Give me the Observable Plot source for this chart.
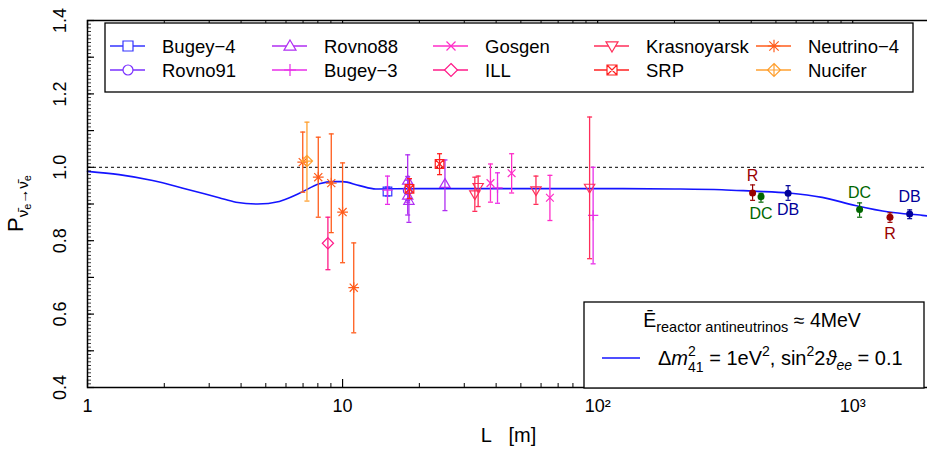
<!DOCTYPE html>
<html><head><meta charset="utf-8">
<script src="https://cdn.jsdelivr.net/npm/d3@7"></script>
<script src="https://cdn.jsdelivr.net/npm/@observablehq/plot@0.6"></script>
<style>body{margin:0;background:#fff;} svg{display:block}</style>
</head><body><div id="chart"></div>
<script>
// ---------- DATA ----------
// Model curve: L [m] and survival probability
const curveL = [1, 1.33, 1.8, 2.43, 3.28, 3.82, 4.64, 5.65, 6.77, 8.11, 9.15, 10.0, 11.65, 13.5, 20, 50, 100, 200, 307, 405, 561, 759, 1023, 1387, 1875, 2000];
const curveP = [0.989, 0.980, 0.964, 0.941, 0.917, 0.905, 0.900, 0.907, 0.929, 0.955, 0.961, 0.961, 0.950, 0.941, 0.942, 0.942, 0.942, 0.941, 0.939, 0.935, 0.930, 0.918, 0.896, 0.878, 0.869, 0.867];

// Experiments: rows of [L, P, low, high]
const bugey4      = [[15.0, 0.934, 0.922, 0.946]];
const rovno91     = [[18.0, 0.937, 0.910, 0.965]];
const rovno88     = [[18.0, 0.964, 0.905, 1.034], [18.0, 0.923, 0.870, 0.975], [18.2, 0.909, 0.850, 0.968], [25.2, 0.955, 0.882, 1.020]];
const bugey3      = [[15.0, 0.938, 0.899, 0.976], [40.5, 0.944, 0.902, 0.985], [96.0, 0.869, 0.737, 1.000]];
const gosgen      = [[38.0, 0.957, 0.905, 1.009], [46.0, 0.984, 0.930, 1.037], [65.0, 0.917, 0.855, 0.978]];
const ill         = [[8.76, 0.793, 0.721, 0.864]];
const krasnoyarsk = [[33.0, 0.926, 0.880, 0.973], [34.0, 0.946, 0.893, 0.976], [57.3, 0.937, 0.899, 0.976], [93.0, 0.944, 0.751, 1.137]];
const srp         = [[18.3, 0.941, 0.915, 0.969], [24.0, 1.009, 0.980, 1.037]];
const neutrino4   = [[6.98, 1.014, 0.932, 1.096], [8.03, 0.973, 0.864, 1.082], [9.03, 0.957, 0.822, 1.091], [10.0, 0.878, 0.740, 1.012], [11.06, 0.672, 0.549, 0.794]];
const nucifer     = [[7.25, 1.017, 0.908, 1.123]];

// Far detectors: name, L, P, low, high
const farNames = ["R", "DC", "DB", "DC", "R", "DB"];
const farL     = [405, 437, 558, 1064, 1400, 1672];
const farP     = [0.930, 0.920, 0.929, 0.885, 0.864, 0.873];
const farLo    = [0.910, 0.905, 0.910, 0.864, 0.850, 0.860];
const farHi    = [0.952, 0.929, 0.950, 0.903, 0.876, 0.884];

const seriesNames = ["Bugey\u22124", "Rovno91", "Rovno88", "Bugey\u22123", "Gosgen", "ILL", "Krasnoyarsk", "SRP", "Neutrino\u22124", "Nucifer"];

// Axis ticks
const yTickLabels = [0.4, 0.6, 0.8, 1.0, 1.2, 1.4];
const xTickValues = [1, 10, 100, 1000];
const xTickLabels = ["1", "10", "10\u00B2", "10\u00B3"];
const xMinor = [2,3,4,5,6,7,8,9,20,30,40,50,60,70,80,90,200,300,400,500,600,700,800,900,2000];
const yMajor = d3.range(4, 15).map(v => v / 10);
const yMinor = d3.range(40, 141).map(v => v / 100);

// ---------- STYLE / SYMBOLS ----------
const rad = s => Math.sqrt(s / Math.PI);
const sym = {
  cap:    {draw(c, s){const k = rad(s); c.moveTo(-k, 0); c.lineTo(k, 0);}},
  square: {draw(c, s){const k = rad(s); c.moveTo(-k, -k); c.lineTo(k, -k); c.lineTo(k, k); c.lineTo(-k, k); c.closePath();}},
  circle: {draw(c, s){const k = rad(s); c.moveTo(k, 0); c.arc(0, 0, k, 0, 2 * Math.PI);}},
  triUp:  {draw(c, s){const k = rad(s) * 1.2; c.moveTo(0, -k); c.lineTo(k, k * 0.7); c.lineTo(-k, k * 0.7); c.closePath();}},
  triDown:{draw(c, s){const k = rad(s) * 1.2; c.moveTo(0, k); c.lineTo(k, -k * 0.7); c.lineTo(-k, -k * 0.7); c.closePath();}},
  plus:   {draw(c, s){const k = rad(s) * 1.2; c.moveTo(-k, 0); c.lineTo(k, 0); c.moveTo(0, -k); c.lineTo(0, k);}},
  times:  {draw(c, s){const k = rad(s) * 0.9; c.moveTo(-k, -k); c.lineTo(k, k); c.moveTo(-k, k); c.lineTo(k, -k);}},
  diamond:{draw(c, s){const k = rad(s) * 1.3; c.moveTo(0, -k); c.lineTo(k, 0); c.lineTo(0, k); c.lineTo(-k, 0); c.closePath();}},
  squareX:{draw(c, s){const k = rad(s); c.moveTo(-k, -k); c.lineTo(k, -k); c.lineTo(k, k); c.lineTo(-k, k); c.closePath(); c.moveTo(-k, -k); c.lineTo(k, k); c.moveTo(-k, k); c.lineTo(k, -k);}},
  aster:  {draw(c, s){const k = rad(s) * 1.25, q = k * 0.75; c.moveTo(-k, 0); c.lineTo(k, 0); c.moveTo(0, -k); c.lineTo(0, k); c.moveTo(-q, -q); c.lineTo(q, q); c.moveTo(-q, q); c.lineTo(q, -q);}},
  diamondPlus:{draw(c, s){const k = rad(s) * 1.3; c.moveTo(0, -k); c.lineTo(k, 0); c.lineTo(0, k); c.lineTo(-k, 0); c.closePath(); c.moveTo(-k, 0); c.lineTo(k, 0); c.moveTo(0, -k); c.lineTo(0, k);}}
};

const groups = [
  {rows: bugey4,      color: "#3434ff", symbol: sym.square},
  {rows: rovno91,     color: "#7a30ff", symbol: sym.circle},
  {rows: rovno88,     color: "#b02ef2", symbol: sym.triUp},
  {rows: bugey3,      color: "#e82ee8", symbol: sym.plus},
  {rows: gosgen,      color: "#ff2ec8", symbol: sym.times},
  {rows: ill,         color: "#ff1a88", symbol: sym.diamond},
  {rows: krasnoyarsk, color: "#ff2e5a", symbol: sym.triDown},
  {rows: srp,         color: "#ff2020", symbol: sym.squareX},
  {rows: neutrino4,   color: "#ff5c1c", symbol: sym.aster},
  {rows: nucifer,     color: "#ffa030", symbol: sym.diamondPlus}
];
groups.forEach((g, i) => g.name = seriesNames[i]);

const farColor = {R: "#990000", DC: "#006600", DB: "#000099"};
const far = farNames.map((n, i) => ({name: n, L: farL[i], P: farP[i], lo: farLo[i], hi: farHi[i], idx: i}));
const labelAbove = [true, false, false, true, false, true];

const W = 927, H = 454, mL = 87, mR = -2, mT = 20, mB = 67;
const fw = W - mL - mR, fh = H - mT - mB;

const curve = curveL.map((L, i) => ({L, P: curveP[i]}));

const marks = [
  Plot.ruleY([1], {stroke: "#000", strokeDasharray: "3,3", strokeWidth: 1}),
  Plot.line(curve, {x: "L", y: "P", stroke: "#1414ff", strokeWidth: 1.6, curve: "monotone-x"}),
  ...groups.flatMap(g => {
    const d = g.rows.map(([L, P, lo, hi]) => ({L, P, lo, hi}));
    return [
      Plot.ruleX(d, {x: "L", y1: "lo", y2: "hi", stroke: g.color, strokeWidth: 1.3}),
      Plot.dot(d, {x: "L", y: "lo", symbol: sym.cap, r: 2.5, stroke: g.color, fill: "none", strokeWidth: 1.3}),
      Plot.dot(d, {x: "L", y: "hi", symbol: sym.cap, r: 2.5, stroke: g.color, fill: "none", strokeWidth: 1.3}),
      Plot.dot(d, {x: "L", y: "P", symbol: g.symbol, r: 4.3, stroke: g.color, fill: "none", strokeWidth: 1.2})
    ];
  }),
  Plot.ruleX(far, {x: "L", y1: "lo", y2: "hi", stroke: d => farColor[d.name], strokeWidth: 1.2}),
  Plot.dot(far, {x: "L", y: "lo", symbol: sym.cap, r: 2.5, stroke: d => farColor[d.name], fill: "none", strokeWidth: 1.2}),
  Plot.dot(far, {x: "L", y: "hi", symbol: sym.cap, r: 2.5, stroke: d => farColor[d.name], fill: "none", strokeWidth: 1.2}),
  Plot.dot(far, {x: "L", y: "P", r: 3.5, fill: d => farColor[d.name], stroke: "none"}),
  Plot.text(far.filter(d => labelAbove[d.idx]), {x: "L", y: "P", text: "name", fill: d => farColor[d.name], dy: -17, fontSize: 16}),
  Plot.text(far.filter(d => !labelAbove[d.idx]), {x: "L", y: "P", text: "name", fill: d => farColor[d.name], dy: 17, fontSize: 16}),
  // ticks (inside the frame)
  Plot.tickX(xTickValues, {x: d => d, insetTop: fh - 8, stroke: "#000", strokeWidth: 1.2}),
  Plot.tickX(xTickValues, {x: d => d, insetBottom: fh - 8, stroke: "#000", strokeWidth: 1.2}),
  Plot.tickX(xMinor, {x: d => d, insetTop: fh - 4, stroke: "#000", strokeWidth: 1}),
  Plot.tickX(xMinor, {x: d => d, insetBottom: fh - 4, stroke: "#000", strokeWidth: 1}),
  Plot.tickY(yMajor, {y: d => d, insetRight: fw - 7, stroke: "#000", strokeWidth: 1.2}),
  Plot.tickY(yMinor, {y: d => d, insetRight: fw - 4, stroke: "#000", strokeWidth: 0.8}),
  // tick labels
  Plot.text(yTickLabels, {y: d => d, text: d => d.toFixed(1), frameAnchor: "left", textAnchor: "middle", dx: -27, rotate: -90, fontSize: 18, fill: "#000"}),
  Plot.text(xTickValues, {x: d => d, text: (d, i) => xTickLabels[i], frameAnchor: "bottom", dy: 24, fontSize: 18, fill: "#000"}),
  Plot.text(["L\u00A0\u00A0\u00A0[m]"], {frameAnchor: "bottom", dy: 54, fontSize: 20, fill: "#000"}),
  Plot.frame({stroke: "#000", strokeWidth: 1.5})
];

const plot = Plot.plot({
  width: W, height: H,
  marginLeft: mL, marginRight: mR, marginTop: mT, marginBottom: mB,
  x: {type: "log", domain: [1, 2000], axis: null},
  y: {domain: [0.4, 1.4], axis: null},
  style: {fontFamily: "'Liberation Sans', Arial, sans-serif", fontSize: "18px", background: "#fff", overflow: "hidden"},
  marks
});
document.getElementById("chart").appendChild(plot);

const svg = d3.select(plot);

// y-axis title
const yl = svg.append("text").attr("transform", `translate(23,${mT + fh / 2}) rotate(-90)`).attr("text-anchor", "middle").attr("fill", "#000").attr("font-size", 22);
yl.append("tspan").text("P");
yl.append("tspan").attr("font-size", 15).attr("dy", 5).text("\u03BD\u0304");
yl.append("tspan").attr("font-size", 11).attr("dy", 3).text("e");
yl.append("tspan").attr("font-size", 15).attr("dy", -3).text("\u2192\u03BD\u0304");
yl.append("tspan").attr("font-size", 11).attr("dy", 3).text("e");

// top legend
const lg = svg.append("g").attr("text-anchor", "start");
lg.append("rect").attr("x", 105).attr("y", 23).attr("width", 808).attr("height", 69).attr("fill", "#fff").attr("stroke", "#000").attr("stroke-width", 1.3);
const colX = [110, 272, 433, 594, 756];
const rowY = [46, 70];
groups.forEach((g, i) => {
  const cx = colX[Math.floor(i / 2)], cy = rowY[i % 2];
  lg.append("line").attr("x1", cx).attr("x2", cx + 35).attr("y1", cy).attr("y2", cy).attr("stroke", g.color).attr("stroke-width", 1.3);
  lg.append("path").attr("d", d3.symbol(g.symbol, Math.PI * 25)()).attr("transform", `translate(${cx + 18},${cy})`)
    .attr("fill", "#fff").attr("stroke", g.color).attr("stroke-width", 1.2);
  lg.append("text").attr("x", cx + 52).attr("y", cy).attr("dy", "0.36em").attr("text-anchor", "start").attr("font-size", 18.5).attr("fill", "#000").text(g.name);
});

// bottom legend
const bg = svg.append("g");
bg.append("rect").attr("x", 584).attr("y", 302).attr("width", 340).attr("height", 86).attr("fill", "#fff").attr("stroke", "#000").attr("stroke-width", 1.3);
const t1 = bg.append("text").attr("x", 752).attr("y", 327).attr("text-anchor", "middle").attr("font-size", 19.5).attr("fill", "#000");
t1.append("tspan").text("\u0112");
t1.append("tspan").attr("font-size", 14.5).attr("dy", 5).text("reactor antineutrinos");
t1.append("tspan").attr("dy", -5).text(" \u2248 4MeV");
bg.append("line").attr("x1", 602).attr("x2", 640).attr("y1", 358).attr("y2", 358).attr("stroke", "#1414ff").attr("stroke-width", 1.5);
const t2 = bg.append("text").attr("x", 658).attr("y", 365).attr("text-anchor", "start").attr("font-size", 20).attr("fill", "#000");
t2.append("tspan").text("\u0394");
t2.append("tspan").attr("font-style", "italic").text("m");
t2.append("tspan").attr("font-size", 14).attr("dy", -9).text("2");
t2.append("tspan").attr("font-size", 14).attr("dx", -7.8).attr("dy", 16).text("41");
t2.append("tspan").attr("dy", -7).text(" = 1eV");
t2.append("tspan").attr("font-size", 14).attr("dy", -9).text("2");
t2.append("tspan").attr("dy", 9).text(", sin");
t2.append("tspan").attr("font-size", 14).attr("dy", -9).text("2");
t2.append("tspan").attr("dy", 9).text("2");
t2.append("tspan").attr("font-style", "italic").text("\u03D1");
t2.append("tspan").attr("font-style", "italic").attr("font-size", 14).attr("dy", 5).text("ee");
t2.append("tspan").attr("dy", -5).text(" = 0.1");
</script>
</body></html>
